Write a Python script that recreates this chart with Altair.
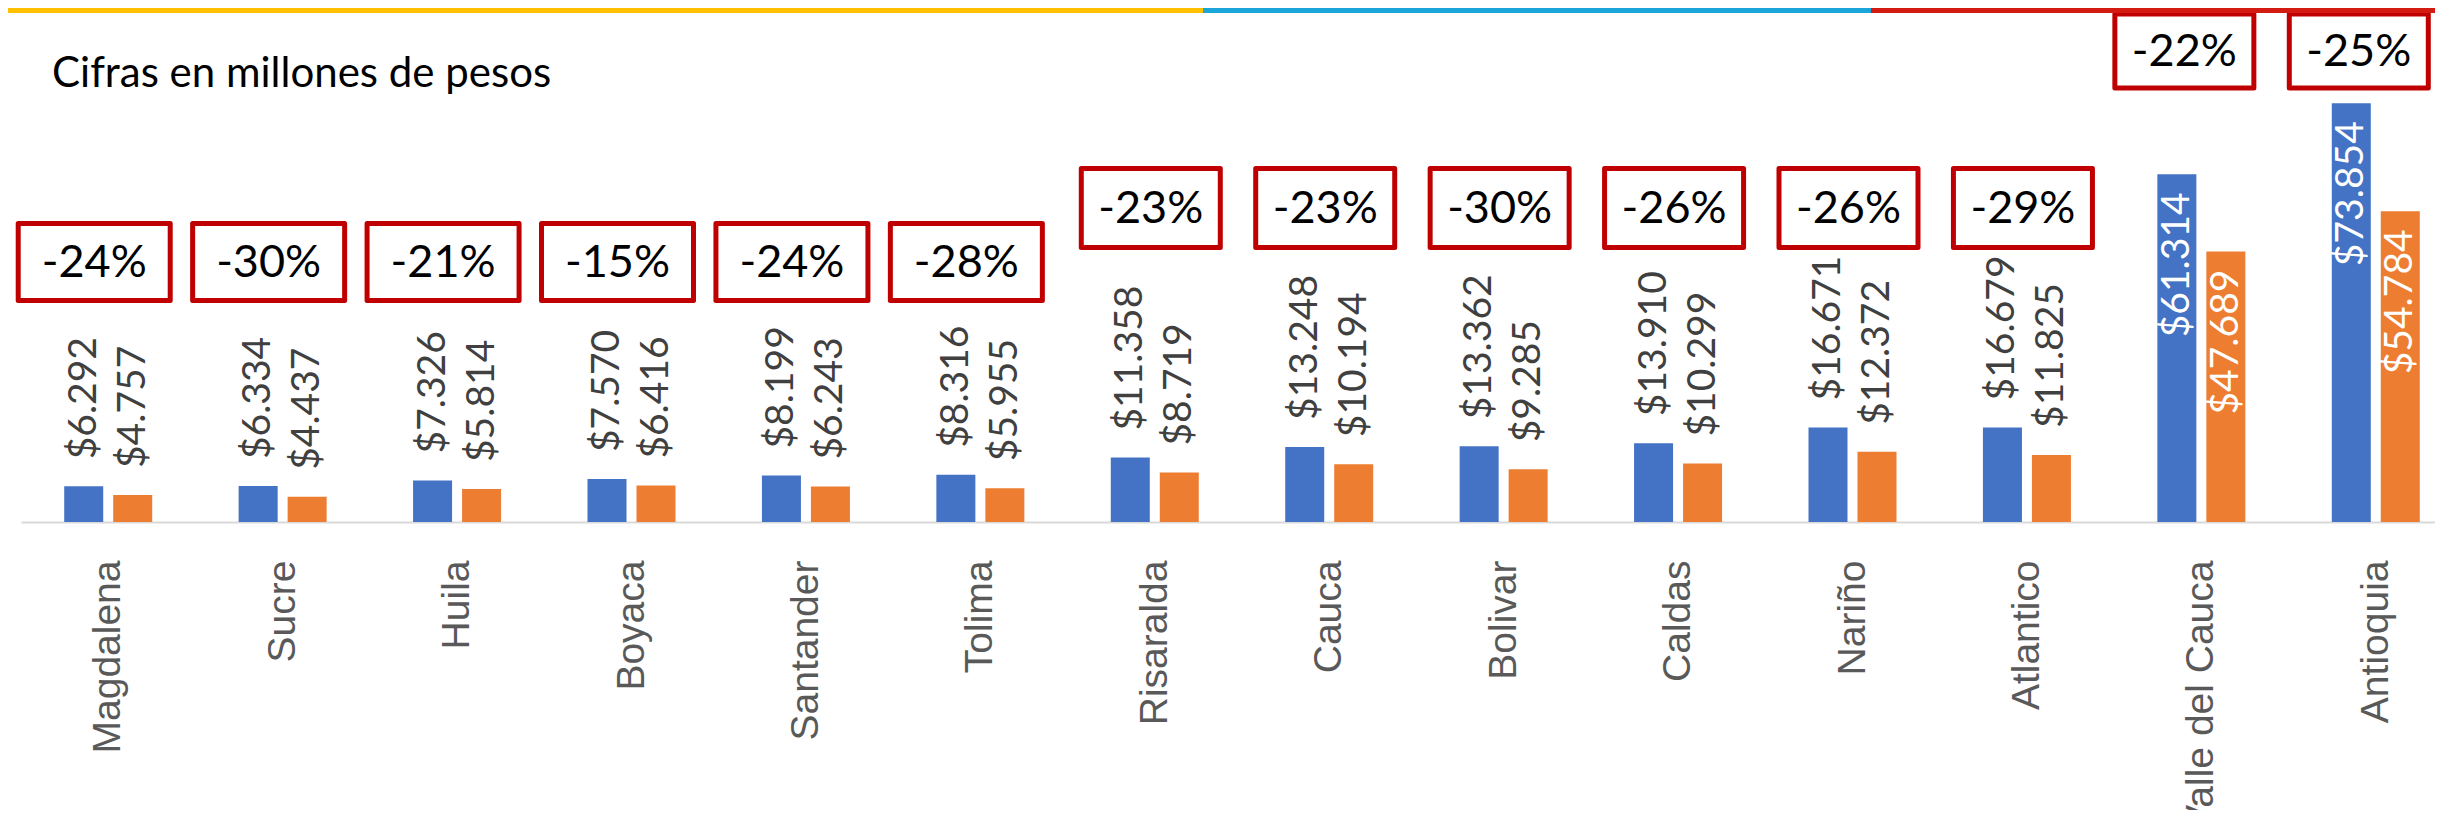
import altair as alt
import pandas as pd

# ---------------- data ----------------
categorias = ["Magdalena", "Sucre", "Huila", "Boyaca", "Santander", "Tolima",
              "Risaralda", "Cauca", "Bolivar", "Caldas", "Nariño", "Atlantico",
              "Valle del Cauca", "Antioquia"]
serie_1 = [6292, 6334, 7326, 7570, 8199, 8316, 11358, 13248, 13362, 13910,
           16671, 16679, 61314, 73854]
serie_2 = [4757, 4437, 5814, 6416, 6243, 5955, 8719, 10194, 9285, 10299,
           12372, 11825, 47689, 54784]
variacion = ["-24%", "-30%", "-21%", "-15%", "-24%", "-28%", "-23%", "-23%",
             "-30%", "-26%", "-26%", "-29%", "-22%", "-25%"]
series = ["Serie 1", "Serie 2"]
titulo = "Cifras en millones de pesos"

# ---------------- layout / style (not data) ----------------
fila_caja = [0] * 6 + [1] * 6 + [2] * 2
# per row of boxes: (centre y px, x shift px, width px, height px)
cajas = {0: (254, -14, 152, 77), 1: (200, -4, 139, 79), 2: (43, -17, 139, 74)}
AZUL, NARANJA, ROJO = "#4472C4", "#ED7D31", "#C00000"


def fmt(v):
    return "$" + f"{v:,}".replace(",", ".")


filas = []
for c, a, b in zip(categorias, serie_1, serie_2):
    filas.append({"categoria": c, "serie": series[0], "valor": a, "etiqueta": fmt(a)})
    filas.append({"categoria": c, "serie": series[1], "valor": b, "etiqueta": fmt(b)})
barras_df = pd.DataFrame(filas)
cajas_df = pd.DataFrame({"categoria": categorias, "variacion": variacion, "fila": fila_caja})
uno = pd.DataFrame({"k": [0]})

x_enc = alt.X("categoria:N", sort=categorias,
              scale=alt.Scale(range=[0, 2442], paddingInner=0, paddingOuter=0),
              axis=alt.Axis(title=None, labelAngle=-90, labelFont="Liberation Sans",
                            labelFontSize=39, labelColor="#595959", labelPadding=38,
                            ticks=False, domainColor="#D9D9D9", domainWidth=2,
                            labelLimit=600, labelOverlap=False, grid=False))
xo_enc = alt.XOffset("serie:N", sort=series,
                     scale=alt.Scale(paddingInner=0.204, paddingOuter=0.882))
y_enc = alt.Y("valor:Q", scale=alt.Scale(domain=[0, 90650]), axis=None)

barras = alt.Chart(barras_df).mark_bar().encode(
    x=x_enc, xOffset=xo_enc, y=y_enc,
    color=alt.Color("serie:N", scale=alt.Scale(domain=series, range=[AZUL, NARANJA]),
                    legend=None))

fuera = alt.Chart(barras_df).transform_filter(alt.datum.valor < 40000).mark_text(
    angle=270, align="left", baseline="middle", font="Lato", fontSize=39,
    color="#404040", yOffset=-27).encode(x=x_enc, xOffset=xo_enc, y=y_enc, text="etiqueta:N")

dentro = alt.Chart(barras_df).transform_filter(alt.datum.valor >= 40000).mark_text(
    angle=270, align="right", baseline="middle", font="Lato", fontSize=39,
    color="white", yOffset=18).encode(x=x_enc, xOffset=xo_enc, y=y_enc, text="etiqueta:N")

capas = [barras, fuera, dentro]
for f, (cy, dx, w, h) in cajas.items():
    forma = f"M-1,-{h / w:.4f} L1,-{h / w:.4f} L1,{h / w:.4f} L-1,{h / w:.4f} Z"
    base = alt.Chart(cajas_df).transform_filter(alt.datum.fila == f)
    capas.append(base.mark_point(shape=forma, size=w * w, filled=True, fill="white",
                                 stroke=ROJO, strokeWidth=5, opacity=1, xOffset=dx,
                                 strokeJoin="round").encode(x=x_enc, y=alt.value(cy)))
    capas.append(base.mark_text(font="Lato", fontSize=45, color="black",
                                baseline="middle", xOffset=dx, yOffset=1).encode(
        x=x_enc, y=alt.value(cy), text="variacion:N"))

# thin coloured band on top
for x0, x1, col in [(-21, 1182, "#FFC000"), (1182, 1850, "#1BA5D8"), (1850, 2430, "#D31B12")]:
    capas.append(alt.Chart(uno).mark_rect(color=col).encode(
        x=alt.value(x0), x2=alt.value(x1), y=alt.value(0), y2=alt.value(5)))

capas.append(alt.Chart(uno).mark_text(align="left", baseline="alphabetic", font="Lato",
                                      fontSize=42, color="black").encode(
    x=alt.value(31), y=alt.value(79), text=alt.value(titulo)))

chart = alt.layer(*capas).properties(
    width=2414, height=514,
    padding={"left": 13, "top": 0, "right": 0, "bottom": 288},
    autosize=alt.AutoSizeParams(type="none"),
).configure_view(stroke=None)

chart.save("out.html", embed_options={"renderer": "svg", "actions": False})
